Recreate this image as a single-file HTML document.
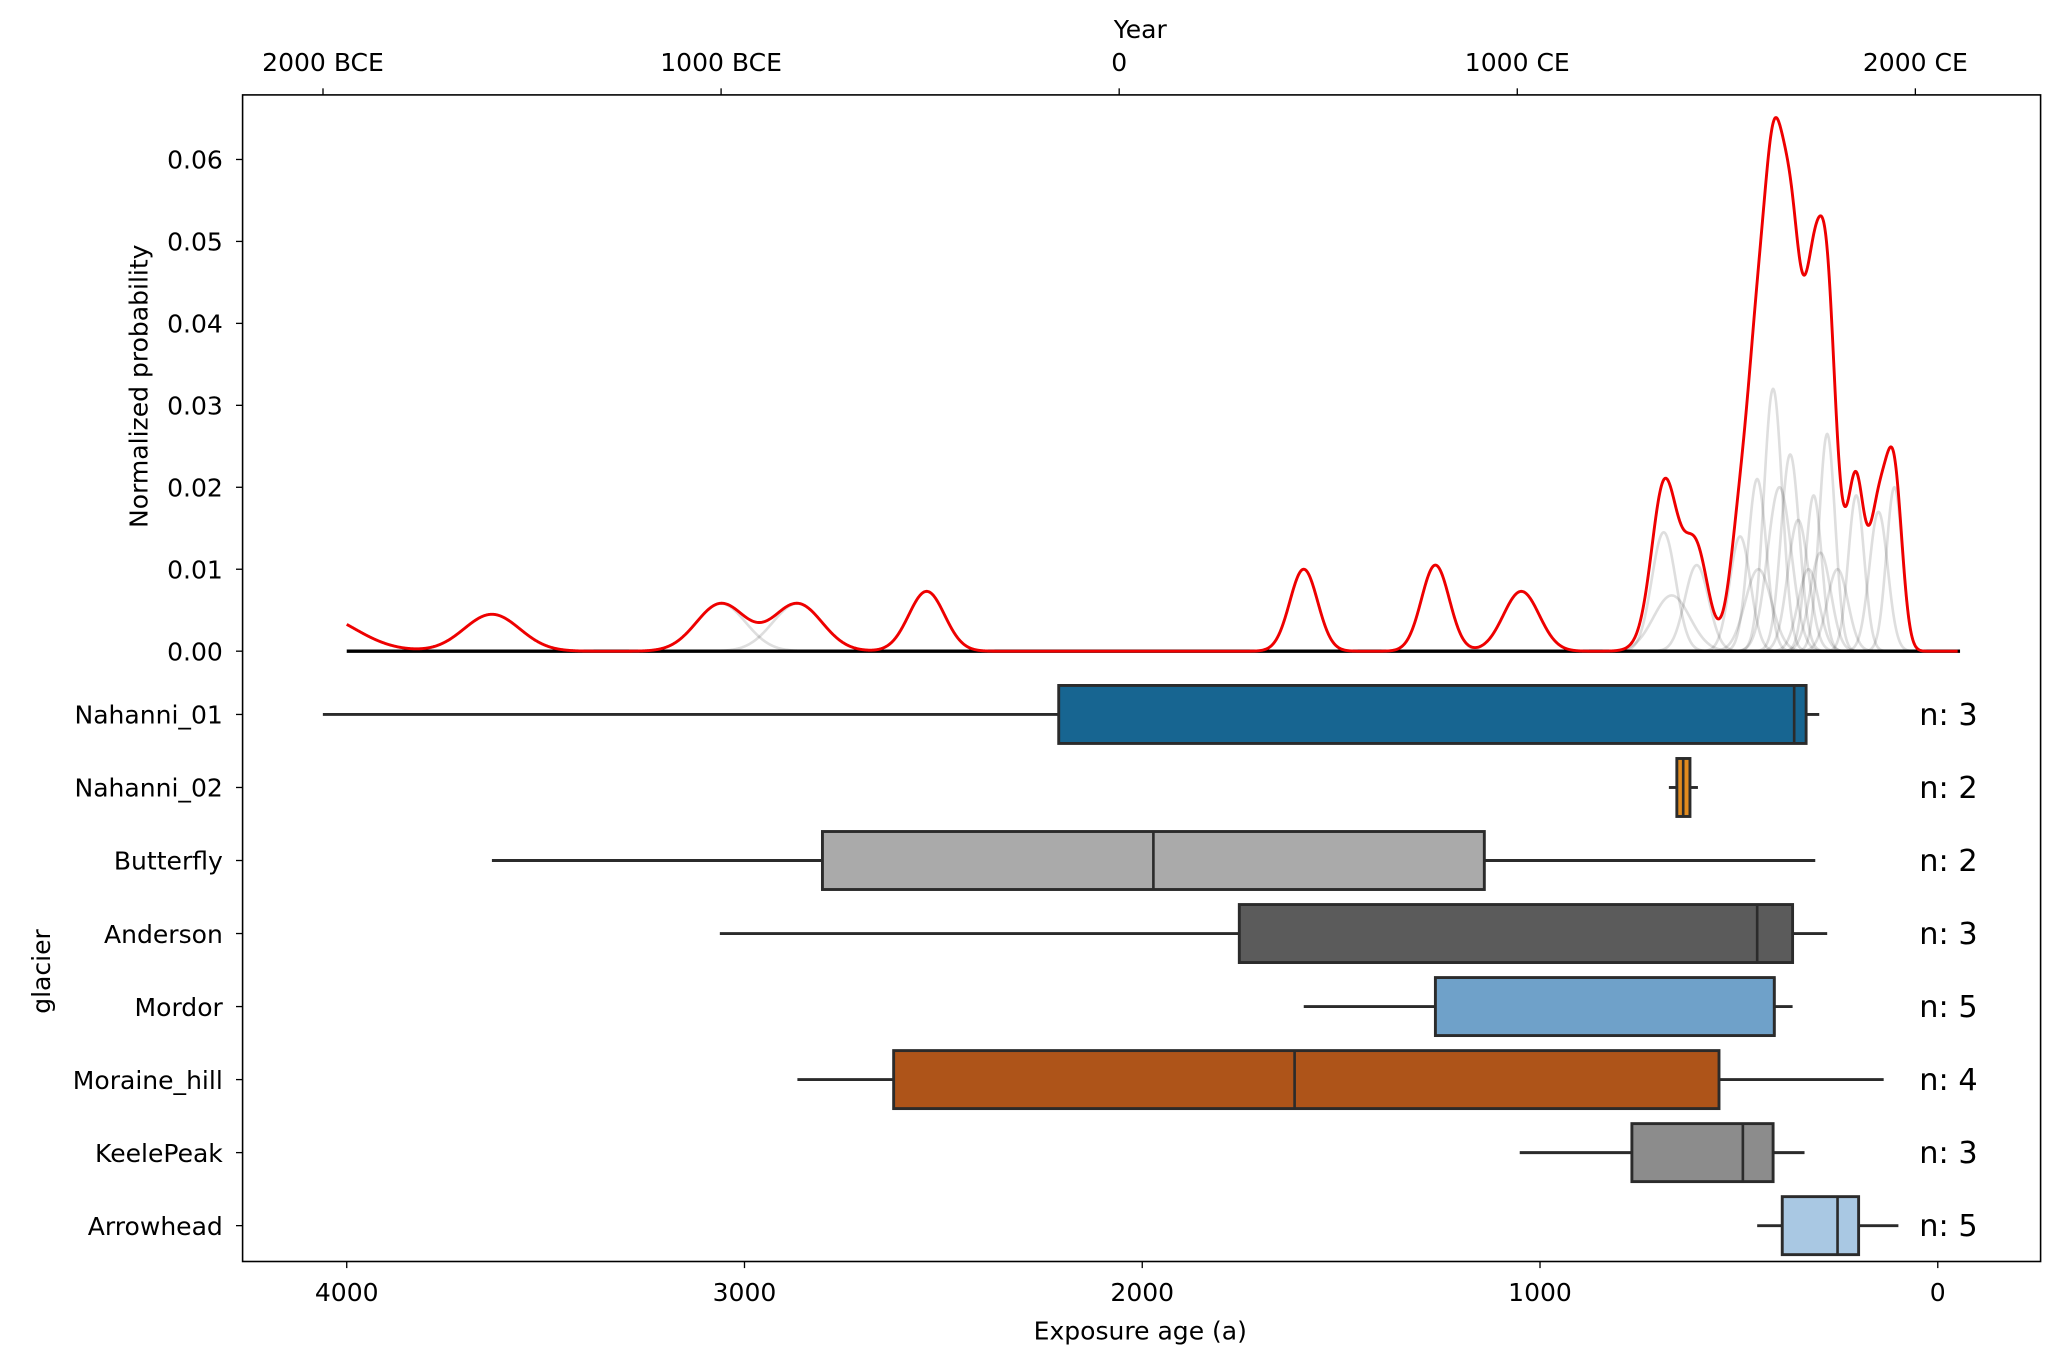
<!DOCTYPE html>
<html><head><meta charset="utf-8"><style>
html,body{margin:0;padding:0;background:#fff;}
svg{display:block;font-family:"DejaVu Sans","Liberation Sans",sans-serif;}
</style></head><body>
<svg id="chart" width="2067" height="1363" viewBox="0 0 1568 1034" xmlns="http://www.w3.org/2000/svg">
<rect width="1568" height="1034" fill="#fff"/>
<g id="grays"></g>
<g id="red"></g>
<g id="boxes"></g>
<g id="axes"></g>
<rect x="184" y="72" width="1364" height="885" fill="none" stroke="#000" stroke-width="1.2"/>
<text x="865" y="29" font-size="19" text-anchor="middle">Year</text>
<text transform="translate(112,293) rotate(-90)" font-size="19" text-anchor="middle">Normalized probability</text>
<text transform="translate(38,737) rotate(-90)" font-size="19" text-anchor="middle">glacier</text>
<text x="865" y="1016" font-size="19" text-anchor="middle">Exposure age (a)</text>
</svg>
<script>
const compAges=[4080,3635,3059,2867,2542,1594,1263,1047,689,669,606,497,454,414,451,371,398,351,312,278,325,252,205,149,109,295];
const compSigmas=[100,70,62,62,45,35,35,45,30,46,30,26,23,23,33,23,30,26,20,20,26,26,20,23,20,26];
const compHeights=[0.0045,0.0045,0.0058,0.0058,0.0073,0.0100,0.0105,0.0073,0.0145,0.0068,0.0105,0.014,0.021,0.032,0.010,0.024,0.02,0.016,0.019,0.0265,0.010,0.010,0.019,0.017,0.020,0.012];
const glaciers=["Nahanni_01","Nahanni_02","Butterfly","Anderson","Mordor","Moraine_hill","KeelePeak","Arrowhead"];
const whiskLo=[4060,676,3635,3062,1594,2867,1051,454];
const q1=[2210,656,2804,1756,1263,2625,769,391];
const med=[361,640,1972,454,411,1617,490,252];
const q3=[331,623,1140,365,411,550,414,199];
const whiskHi=[298,603,308,278,365,136,335,99];
const counts=[3,2,2,3,5,4,3,5];
const colors=["#176591","#e08a1e","#aaaaaa","#5b5b5b","#6fa1c9","#ae5419","#8c8c8c","#a9c8e3"];
const xTicks=[4000,3000,2000,1000,0];
const yTicks=[0,0.01,0.02,0.03,0.04,0.05,0.06];
const yearTicks=[-2000,-1000,0,1000,2000];
const yearLabels=["2000 BCE","1000 BCE","0","1000 CE","2000 CE"];

const NS="http://www.w3.org/2000/svg";
const X=a=>1470-a*0.30175;
const Y=p=>494-p*6217;
const YR=y=>849+y*0.302;
const rowY=i=>542+i*55.4;
function mk(tag,attrs,parent,txt){const e=document.createElementNS(NS,tag);for(const k in attrs)e.setAttribute(k,attrs[k]);if(txt!==undefined)e.textContent=txt;parent.appendChild(e);return e;}
const gGray=document.getElementById('grays'),gRed=document.getElementById('red'),gBox=document.getElementById('boxes'),gAx=document.getElementById('axes');
const g=(a,i)=>compHeights[i]*Math.exp(-0.5*Math.pow((a-compAges[i])/compSigmas[i],2));
for(let i=0;i<compAges.length;i++){
  let d='';const lo=Math.min(4000,compAges[i]+3.5*compSigmas[i]),hi=Math.max(-50,compAges[i]-3.5*compSigmas[i]);
  for(let a=lo;a>=hi;a-=1){d+=(d?'L':'M')+X(a).toFixed(2)+','+Y(g(a,i)).toFixed(2);}
  const p=mk('path',{d:d,fill:'none',stroke:'rgba(0,0,0,0.13)','stroke-width':2},gGray);
  
  
}
const bl=mk('line',{x1:X(4000),x2:X(-56),y1:Y(0),y2:Y(0),stroke:'#000','stroke-width':2.5},gRed);


let d='';
for(let a=4000;a>=-50;a-=1){let s=0;for(let i=0;i<compAges.length;i++)s+=g(a,i);d+=(d?'L':'M')+X(a).toFixed(2)+','+Y(s).toFixed(2);}
const rp=mk('path',{d:d,fill:'none',stroke:'#ee0000','stroke-width':2.2},gRed);


for(let i=0;i<glaciers.length;i++){
  const cy=rowY(i),h=44;
  const grp=mk('g',{},gBox);
  
  
  mk('line',{x1:X(whiskLo[i]),x2:X(q1[i]),y1:cy,y2:cy,stroke:'#2b2b2b','stroke-width':2.2},grp);
  mk('line',{x1:X(q3[i]),x2:X(whiskHi[i]),y1:cy,y2:cy,stroke:'#2b2b2b','stroke-width':2.2},grp);
  mk('rect',{x:X(q1[i]),y:cy-h/2,width:X(q3[i])-X(q1[i]),height:h,fill:colors[i],stroke:'#2b2b2b','stroke-width':2.2},grp);
  mk('line',{x1:X(med[i]),x2:X(med[i]),y1:cy-h/2,y2:cy+h/2,stroke:'#2b2b2b','stroke-width':2},grp);
  const lab=mk('text',{x:169,y:cy+7,'font-size':19,'text-anchor':'end'},gAx,glaciers[i]);
  
  
  mk('line',{x1:179,x2:184,y1:cy,y2:cy,stroke:'#000'},gAx);
  const n=mk('text',{x:1456,y:cy+8,'font-size':23},gBox,'n: '+counts[i]);
  
  
}
xTicks.forEach(t=>{mk('line',{x1:X(t),x2:X(t),y1:957,y2:962,stroke:'#000'},gAx);
  const e=mk('text',{x:X(t),y:987,'font-size':19,'text-anchor':'middle'},gAx,String(t));
  
  });
yTicks.forEach(t=>{mk('line',{x1:179,x2:184,y1:Y(t),y2:Y(t),stroke:'#000'},gAx);
  const e=mk('text',{x:169,y:Y(t)+7,'font-size':19,'text-anchor':'end'},gAx,t.toFixed(2));
  
  });
yearTicks.forEach((t,i)=>{mk('line',{x1:YR(t),x2:YR(t),y1:67,y2:72,stroke:'#000'},gAx);
  const e=mk('text',{x:YR(t),y:54,'font-size':19,'text-anchor':'middle'},gAx,yearLabels[i]);
  
  });
</script>
</body></html>
